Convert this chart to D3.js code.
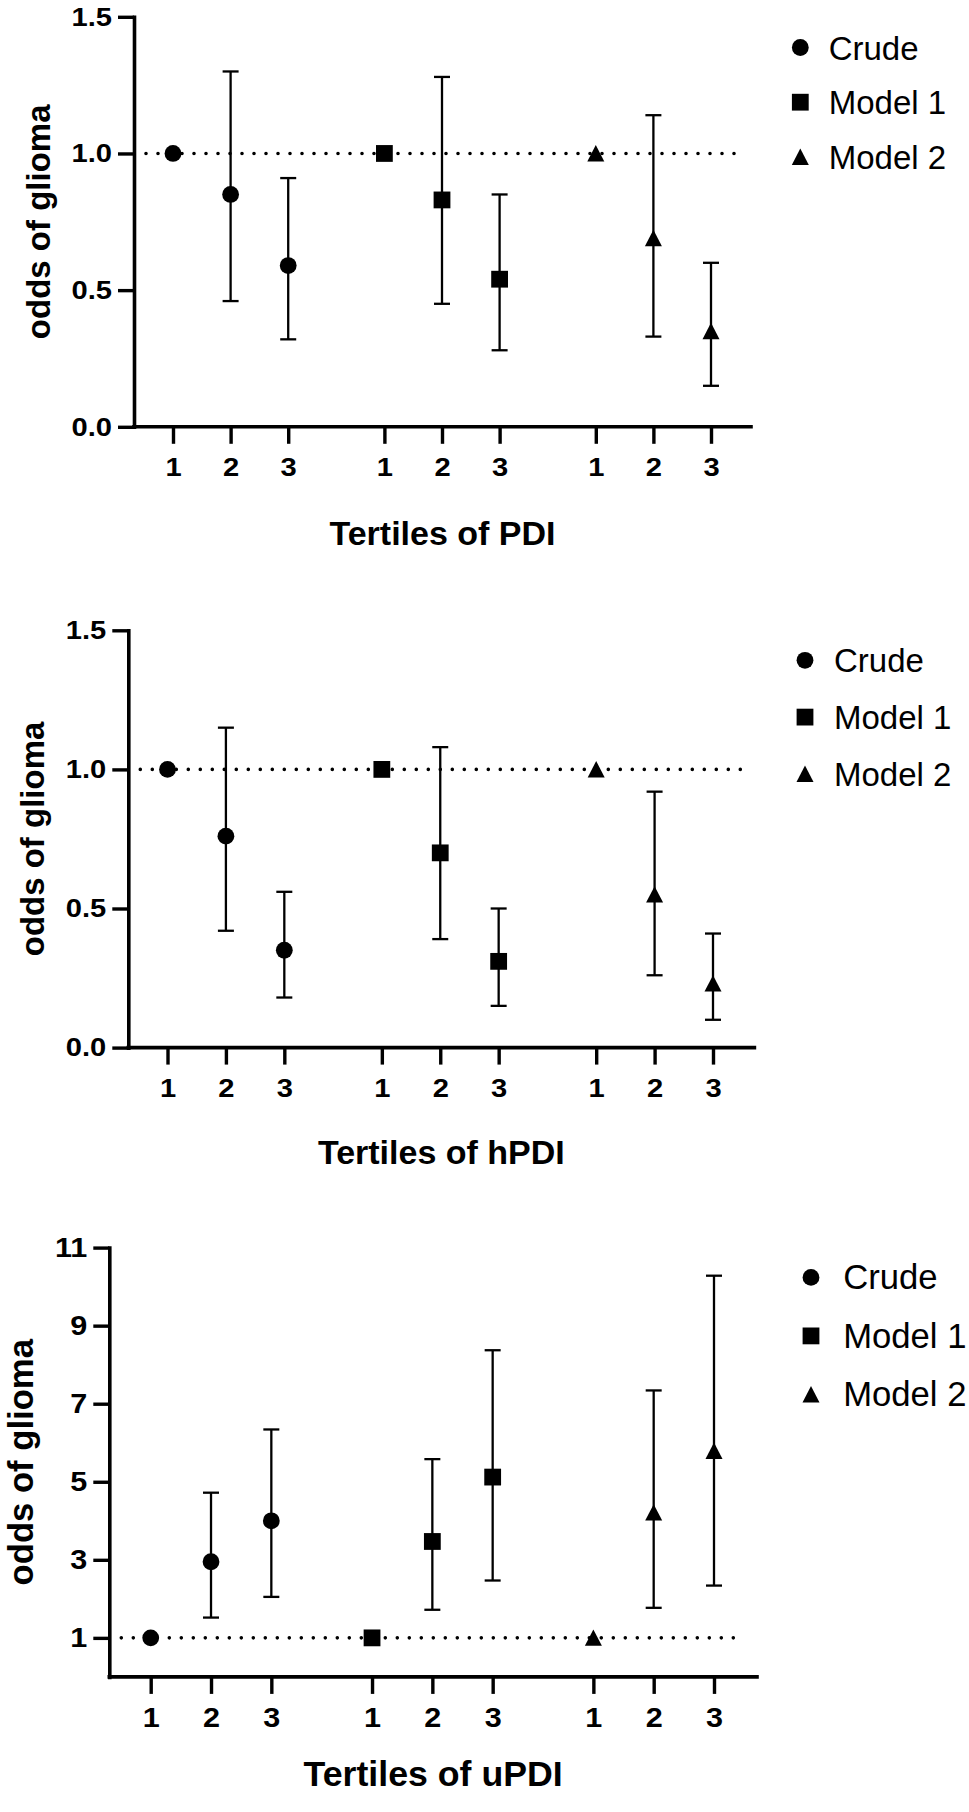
<!DOCTYPE html>
<html lang="en">
<head>
<meta charset="utf-8">
<title>Odds of glioma by tertiles of PDI, hPDI and uPDI</title>
<script src="https://cdn.jsdelivr.net/npm/d3@7"></script>
<style>
  body { margin: 0; background: #fff; }
  text { font-family: "Liberation Sans", Arial, sans-serif; fill: #000; }
</style>
</head>
<body>
<script>
// categories
var tertiles = ["1", "2", "3"];
var models = ["Crude", "Model 1", "Model 2"];
var refOdds = 1;

// PDI: odds ratio, lower and upper CI, one row per model
var pdiOR   = [[1.00, 0.85, 0.59], [1.00, 0.83, 0.54], [1.00, 0.69, 0.35]];
var pdiLow  = [[null, 0.46, 0.32], [null, 0.45, 0.28], [null, 0.33, 0.15]];
var pdiHigh = [[null, 1.30, 0.91], [null, 1.28, 0.85], [null, 1.14, 0.60]];

// hPDI
var hpdiOR   = [[1.00, 0.76, 0.35], [1.00, 0.70, 0.31], [1.00, 0.55, 0.23]];
var hpdiLow  = [[null, 0.42, 0.18], [null, 0.39, 0.15], [null, 0.26, 0.10]];
var hpdiHigh = [[null, 1.15, 0.56], [null, 1.08, 0.50], [null, 0.92, 0.41]];

// uPDI
var updiOR   = [[1.00, 2.95, 4.00], [1.00, 3.47, 5.12], [1.00, 4.21, 5.79]];
var updiLow  = [[null, 1.52, 2.05], [null, 1.72, 2.47], [null, 1.77, 2.34]];
var updiHigh = [[null, 4.72, 6.34], [null, 5.58, 8.37], [null, 7.34, 10.28]];

// tick labels
var smallTicks = [0, 0.5, 1.0, 1.5];
var bigTicks = [1, 3, 5, 7, 9, 11];

var w = 969, h = 1812;

// panel layout (pixels); fs = font scale of the panel
var panels = [
    { title: "Tertiles of PDI", or: pdiOR, lo: pdiLow, hi: pdiHigh,
      yDomain: [0, 1.5], ticks: smallTicks, fmt: d3.format(".1f"), fs: 1,
      left: 134, right: 751, top: 16.8, bottom: 426.8, x0: 173, x1: 711,
      yLabelX: 50, titleY: 544.6, legX: 800.3, legY: 47.5, legStep: 54.7, legTextX: 828.7 },
    { title: "Tertiles of hPDI", or: hpdiOR, lo: hpdiLow, hi: hpdiHigh,
      yDomain: [0, 1.5], ticks: smallTicks, fmt: d3.format(".1f"), fs: 1,
      left: 128.3, right: 754.4, top: 630.3, bottom: 1047.6, x0: 167.5, x1: 713,
      yLabelX: 43.5, titleY: 1164.2, legX: 805, legY: 660.3, legStep: 56.8, legTextX: 834 },
    { title: "Tertiles of uPDI", or: updiOR, lo: updiLow, hi: updiHigh,
      yDomain: [0, 11], ticks: bigTicks, fmt: d3.format("d"), fs: 1.05,
      left: 109.3, right: 757, top: 1247.6, bottom: 1676.9, x0: 150.7, x1: 714,
      yLabelX: 32.5, titleY: 1786.2, legX: 811, legY: 1277.4, legStep: 58.5, legTextX: 843.2 }
];

// marker shapes, one per model
function markerPath(i) {
    if (i === 0) return d3.symbol(d3.symbolCircle, Math.PI * 8.4 * 8.4)();
    if (i === 1) return "M-8.4,-8.4H8.4V8.4H-8.4Z";
    return "M0,-8.4L8.5,8H-8.5Z";
}

// widen text a little (the original font runs wider than Arial)
function stretch(sel, k) {
    sel.each(function () {
        var L = this.getComputedTextLength();
        this.setAttribute("textLength", L * k);
        this.setAttribute("lengthAdjust", "spacingAndGlyphs");
    });
}

var svg = d3.select("body").append("svg")
    .attr("width", w)
    .attr("height", h);

svg.append("rect").attr("width", w).attr("height", h).attr("fill", "#fff");

panels.forEach(function (p) {

    var g = svg.append("g");

    var y = d3.scaleLinear().domain(p.yDomain).range([p.bottom, p.top]);
    var outer = d3.scaleBand().domain(models).range([p.x0, p.x1])
        .paddingInner(0.455).paddingOuter(0);
    var inner = d3.scalePoint().domain(tertiles).range([0, outer.bandwidth()]);

    // y axis
    var ya = g.append("g")
        .attr("transform", "translate(" + p.left + ",0)")
        .call(d3.axisLeft(y).tickValues(p.ticks).tickFormat(p.fmt)
            .tickSize(16).tickPadding(6).tickSizeOuter(0));
    ya.select(".domain").attr("stroke-width", 3.6).attr("stroke-linecap", "square");
    ya.selectAll(".tick line").attr("stroke-width", 3.4);
    ya.selectAll(".tick text").attr("font-size", 26 * p.fs).attr("font-weight", "bold")
        .attr("font-family", "Liberation Sans, Arial, sans-serif");
    stretch(ya.selectAll(".tick text"), 1.12);

    // x axis baseline
    g.append("line")
        .attr("x1", p.left).attr("x2", p.right)
        .attr("y1", p.bottom).attr("y2", p.bottom)
        .attr("stroke", "#000").attr("stroke-width", 3.6)
        .attr("stroke-linecap", "square");

    // x ticks per group
    models.forEach(function (m) {
        var xa = g.append("g")
            .attr("transform", "translate(" + outer(m) + "," + p.bottom + ")")
            .call(d3.axisBottom(inner).tickSize(17).tickPadding(14).tickSizeOuter(0));
        xa.select(".domain").remove();
        xa.selectAll(".tick line").attr("stroke-width", 3.4);
        xa.selectAll(".tick text").attr("font-size", 26 * p.fs).attr("font-weight", "bold")
            .attr("font-family", "Liberation Sans, Arial, sans-serif");
        stretch(xa.selectAll(".tick text"), 1.12);
    });

    // dotted reference line
    g.append("line")
        .attr("x1", p.left + 12).attr("x2", p.right - 14)
        .attr("y1", y(refOdds)).attr("y2", y(refOdds))
        .attr("stroke", "#000").attr("stroke-width", 3.6)
        .attr("stroke-linecap", "round")
        .attr("stroke-dasharray", "0,12");

    // points with error bars
    models.forEach(function (m, mi) {
        var pts = tertiles.map(function (t, ti) {
            return { t: t, v: p.or[mi][ti], lo: p.lo[mi][ti], hi: p.hi[mi][ti] };
        });
        var mg = g.append("g").attr("transform", "translate(" + outer(m) + ",0)");
        var bars = mg.selectAll("g.bar")
            .data(pts.filter(function (d) { return d.lo != null; }))
            .enter().append("g").attr("class", "bar")
            .attr("stroke", "#000").attr("stroke-width", 2.3).attr("fill", "none");
        bars.append("line")
            .attr("x1", function (d) { return inner(d.t); })
            .attr("x2", function (d) { return inner(d.t); })
            .attr("y1", function (d) { return y(d.lo); })
            .attr("y2", function (d) { return y(d.hi); });
        bars.append("line")
            .attr("x1", function (d) { return inner(d.t) - 8; })
            .attr("x2", function (d) { return inner(d.t) + 8; })
            .attr("y1", function (d) { return y(d.lo); })
            .attr("y2", function (d) { return y(d.lo); });
        bars.append("line")
            .attr("x1", function (d) { return inner(d.t) - 8; })
            .attr("x2", function (d) { return inner(d.t) + 8; })
            .attr("y1", function (d) { return y(d.hi); })
            .attr("y2", function (d) { return y(d.hi); });

        mg.selectAll("path.pt")
            .data(pts)
            .enter().append("path").attr("class", "pt")
            .attr("d", markerPath(mi))
            .attr("fill", "#000")
            .attr("transform", function (d) {
                return "translate(" + inner(d.t) + "," + y(d.v) + ")";
            });
    });

    // y axis title
    g.append("text")
        .attr("transform", "translate(" + p.yLabelX + "," + ((p.top + p.bottom) / 2) + ") rotate(-90)")
        .attr("text-anchor", "middle")
        .attr("font-size", 33 * p.fs).attr("font-weight", "bold")
        .text("odds of glioma");

    // x axis title
    g.append("text")
        .attr("x", (p.left + p.right) / 2)
        .attr("y", p.titleY)
        .attr("text-anchor", "middle")
        .attr("font-size", 34 * p.fs).attr("font-weight", "bold")
        .text(p.title);

    // legend
    models.forEach(function (m, mi) {
        var ly = p.legY + mi * p.legStep;
        g.append("path")
            .attr("d", markerPath(mi))
            .attr("fill", "#000")
            .attr("transform", "translate(" + p.legX + "," + ly + ")");
        g.append("text")
            .attr("x", p.legTextX)
            .attr("y", ly + 12)
            .attr("font-size", 33 * p.fs)
            .text(m);
    });
});
</script>
</body>
</html>
